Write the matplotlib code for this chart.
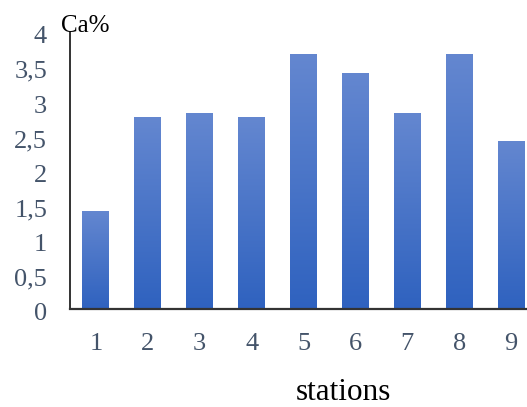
import numpy as np
import matplotlib
matplotlib.use("Agg")
import matplotlib.pyplot as plt
from matplotlib.colors import LinearSegmentedColormap
from matplotlib.ticker import FuncFormatter
from matplotlib.transforms import ScaledTranslation

stations = ["1", "2", "3", "4", "5", "6", "7", "8", "9"]
ca_percent = [1.42, 2.77, 2.83, 2.77, 3.68, 3.41, 2.83, 3.68, 2.43]
y_ticks = [0, 0.5, 1, 1.5, 2, 2.5, 3, 3.5, 4]

plt.rcParams["font.family"] = ["Liberation Serif", "DejaVu Serif"]
tick_color = "#44546a"

fig = plt.figure(figsize=(5.27, 4.07), dpi=100)
W, H = 527, 407
left, right, bottom, top = 70, 537, 309, 32
ax = fig.add_axes([left / W, 1 - bottom / H, (right - left) / W, (bottom - top) / H])

x = np.arange(len(stations))
bars = ax.bar(x, ca_percent, width=0.52, color="none", edgecolor="none", zorder=2)

# vertical gradient inside each bar: lighter at the top, deeper at the base
grad_cmap = LinearSegmentedColormap.from_list("bar_grad", ["#2f62bf", "#6487d0"])
grad = np.linspace(0, 1, 256).reshape(-1, 1)
for b in bars:
    x0, w, h = b.get_x(), b.get_width(), b.get_height()
    im = ax.imshow(grad, cmap=grad_cmap, origin="lower", aspect="auto",
                   extent=(x0, x0 + w, 0, h), zorder=2)
    im.set_clip_path(b)

ax.set_xlim(-0.5, len(stations) - 0.5)
ax.set_ylim(0, 4)
ax.set_xticks(x)
ax.set_xticklabels(stations)
ax.set_yticks(y_ticks)
ax.yaxis.set_major_formatter(FuncFormatter(lambda v, p: f"{v:g}".replace(".", ",")))

ax.tick_params(axis="both", length=0, labelsize=19, colors=tick_color)
ax.tick_params(axis="x", pad=17.5)
ax.tick_params(axis="y", pad=16.5)

# nudge the value labels slightly below their gridline positions
shift = ScaledTranslation(0, -2 / 72, fig.dpi_scale_trans)
for lbl in ax.get_yticklabels():
    lbl.set_transform(lbl.get_transform() + shift)

for s in ["top", "right"]:
    ax.spines[s].set_visible(False)
ax.spines["left"].set_color("#222222")
ax.spines["left"].set_linewidth(1.3)
ax.spines["bottom"].set_color("#333333")
ax.spines["bottom"].set_linewidth(1.6)

fig.text(61 / W, 1 - 32 / H, "Ca%", fontsize=18, color="black", ha="left", va="baseline")
fig.text(343 / W, 1 - 392 / H, "stations", fontsize=22.5, color="black", ha="center", va="center")

fig.savefig("out.png", dpi=100)
